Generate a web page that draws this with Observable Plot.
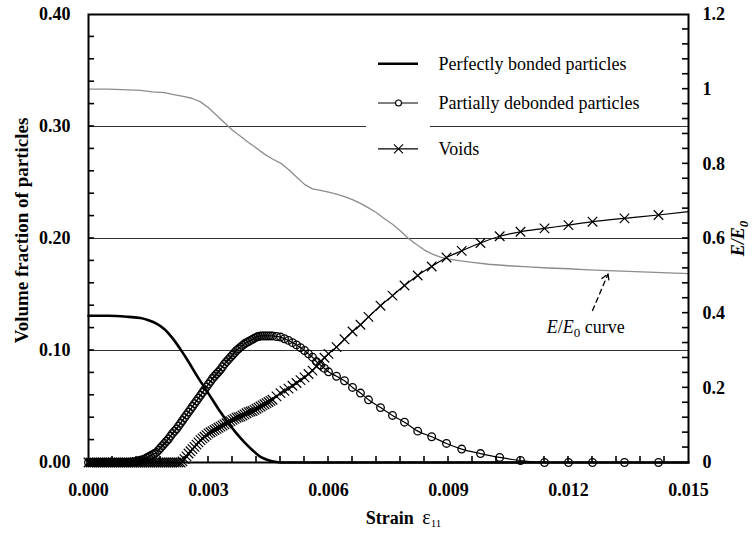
<!DOCTYPE html>
<html><head><meta charset="utf-8">
<script src="https://cdn.jsdelivr.net/npm/d3@7"></script>
<script src="https://cdn.jsdelivr.net/npm/@observablehq/plot@0.6"></script>
<style>
body{margin:0;background:#fff}
#chart svg, #chart svg text { font-family: "Liberation Serif", "Times New Roman", serif !important; }
</style>
</head><body><div id="chart"></div>
<script>
// shared strain steps (marker positions) for partially debonded particles and voids
const strain = [0,0.00005,0.0001,0.00015,0.0002,0.00025,0.0003,0.00035,0.0004,0.00045,
  0.0005,0.00055,0.0006,0.00065,0.0007,0.00075,0.0008,0.00085,0.0009,0.00095,
  0.0010,0.00105,0.0011,0.00115,0.0012,0.00125,0.0013,0.00135,0.0014,0.00145,
  0.0015,0.00155,0.0016,0.00165,0.0017,0.00175,0.0018,0.00185,0.0019,0.00195,
  0.0020,0.00205,0.0021,0.00215,0.0022,0.00225,0.0023,0.00235,0.0024,0.00245,
  0.0025,0.00255,0.0026,0.00265,0.0027,0.00275,0.0028,0.00285,0.0029,0.00295,
  0.0030,0.00305,0.0031,0.00315,0.0032,0.00325,0.0033,0.00335,0.0034,0.00345,
  0.0035,0.00355,0.0036,0.00365,0.0037,0.00375,0.0038,0.00385,0.0039,0.00395,
  0.0040,0.00405,0.0041,0.00415,0.0042,0.00425,0.0043,0.00435,0.0044,0.00445,
  0.0045,0.00455,0.0046,0.0047,0.0048,0.0049,0.0050,0.0051,0.0052,0.0053,
  0.0054,0.0055,0.0056,0.0057,0.0058,0.0059,0.0060,0.0062,0.0064,0.0066,
  0.0068,0.0070,0.0073,0.0076,0.0079,0.00823,0.00858,0.00895,0.00933,0.0098,
  0.01028,0.0108,0.0114,0.0120,0.0126,0.0134,0.01425,0.0150];
const partial = [0,0,0,0,0,0,0,0,0,0,
  0,0,0,0,0,0,0,0,0,0,
  0,0.0002,0.0005,0.0008,0.001,0.0015,0.002,0.0025,0.003,0.004,
  0.005,0.006,0.007,0.008,0.009,0.011,0.013,0.015,0.017,0.019,
  0.021,0.0235,0.026,0.028,0.030,0.0325,0.035,0.0375,0.040,0.0425,
  0.045,0.0475,0.050,0.0525,0.055,0.0575,0.060,0.0625,0.065,0.0675,
  0.070,0.0725,0.075,0.077,0.079,0.081,0.083,0.0855,0.088,0.090,
  0.092,0.094,0.096,0.098,0.100,0.1015,0.103,0.1045,0.106,0.107,
  0.108,0.109,0.110,0.111,0.112,0.1125,0.113,0.113,0.113,0.113,
  0.113,0.113,0.113,0.1125,0.112,0.1105,0.109,0.107,0.105,0.1025,
  0.100,0.097,0.094,0.090,0.087,0.084,0.081,0.077,0.073,0.067,
  0.062,0.056,0.049,0.042,0.036,0.028,0.023,0.017,0.012,0.008,
  0.0045,0.0018,0,0,0,0,0,0];
const voids = [0,0,0,0,0,0,0,0,0,0,
  0,0,0,0,0,0,0,0,0,0,
  0,0,0,0,0,0,0,0,0,0,
  0,0,0,0,0,0,0,0,0,0,
  0,0,0,0,0,0,0,0.001,0.003,0.0055,
  0.008,0.010,0.012,0.014,0.016,0.018,0.020,0.0215,0.023,0.0245,
  0.026,0.027,0.028,0.029,0.030,0.031,0.032,0.033,0.034,0.035,
  0.036,0.037,0.038,0.039,0.040,0.0405,0.041,0.042,0.043,0.044,
  0.045,0.0455,0.046,0.047,0.048,0.049,0.050,0.051,0.052,0.053,
  0.054,0.055,0.056,0.059,0.062,0.064,0.066,0.0685,0.071,0.0735,
  0.076,0.079,0.082,0.086,0.090,0.0935,0.097,0.103,0.110,0.117,
  0.123,0.130,0.140,0.149,0.158,0.167,0.175,0.183,0.189,0.196,
  0.202,0.206,0.209,0.212,0.215,0.218,0.221,0.224];
// perfectly bonded particles (line only)
const bondedStrain = [0,0.0005,0.0010,0.0013,0.0015,0.0017,0.0019,0.0021,0.0023,0.0025,
  0.0027,0.0029,0.0031,0.0033,0.0035,0.0037,0.0039,0.0041,0.0043,0.0045,0.0047,0.0049,0.0150];
const bonded = [0.131,0.131,0.130,0.129,0.127,0.124,0.119,0.111,0.101,0.090,
  0.078,0.067,0.056,0.045,0.035,0.026,0.018,0.011,0.005,0.002,0.0005,0,0];
// E/E0 curve (right axis)
const eStrain = [0,0.0005,0.0010,0.0013,0.0016,0.0019,0.0021,0.0024,0.0026,0.0028,
  0.0030,0.0032,0.0034,0.0036,0.0038,0.0040,0.0042,0.0044,0.0046,0.0048,
  0.0050,0.0052,0.0054,0.0056,0.0058,0.0060,0.0062,0.0064,0.0066,0.0068,
  0.0070,0.0072,0.0074,0.0076,0.0078,0.0080,0.0082,0.0084,0.0086,0.0088,
  0.0090,0.0093,0.0096,0.0100,0.0105,0.0110,0.0115,0.0120,0.0125,0.0130,
  0.0135,0.0140,0.0145,0.0150];
const eRatio = [1.000,1.000,0.998,0.997,0.993,0.991,0.986,0.980,0.975,0.966,
  0.950,0.930,0.910,0.890,0.874,0.857,0.842,0.826,0.813,0.802,
  0.785,0.765,0.745,0.733,0.729,0.724,0.719,0.712,0.704,0.694,
  0.682,0.669,0.653,0.638,0.620,0.600,0.584,0.569,0.558,0.550,
  0.545,0.540,0.536,0.531,0.527,0.524,0.521,0.519,0.516,0.514,
  0.512,0.510,0.508,0.506];
// tick labels
const xTicks = [0,0.003,0.006,0.009,0.012,0.015];
const xTickLabels = ["0.000","0.003","0.006","0.009","0.012","0.015"];
const yTicks = [0,0.1,0.2,0.3,0.4];
const yTickLabels = ["0.00","0.10","0.20","0.30","0.40"];
const rTicks = [0,0.2,0.4,0.6,0.8,1.0,1.2];
const rTickLabels = ["0","0.2","0.4","0.6","0.8","1","1.2"];
const gridLines = [0.1,0.2,0.3];
const legendLabels = ["Perfectly bonded particles","Partially debonded particles","Voids"];

const RATIO = 3; // right axis (0..1.2) mapped onto left (0..0.4)
const rows = strain.map((s,i)=>({s, p: partial[i], v: voids[i]}));
const markerRows = rows.slice(0,-1);
const bondRows = bondedStrain.map((s,i)=>({s, b: bonded[i]}));
const eRows = eStrain.map((s,i)=>({s, e: eRatio[i]/RATIO}));

// minor tick positions
const xMinor = d3.range(1, 25).map(k => k * 0.0006);
const yMinor = d3.range(1, 20).map(k => k * 0.02);
const rMinor = d3.range(1, 30).map(k => k * 0.04 / RATIO);
const XMAX = 0.015, TK = 6; // inward tick length in px

// legend layout (data units)
const legY = [0.356,0.321,0.280];
const legX1 = 0.00725, legX2 = 0.00825, legXm = 0.00775, legTx = 0.00875;
const leg = legendLabels.map((t,i)=>({t, y: legY[i]}));

const plot = Plot.plot({
  width: 752, height: 534,
  marginLeft: 88, marginRight: 64, marginTop: 14, marginBottom: 72,
  x: {domain: [0, XMAX]},
  y: {domain: [0, 0.4]},
  style: {fontFamily: "Liberation Serif", fontSize: "18px", fontWeight: "bold", color: "black", background: "white", overflow: "visible"},
  marks: [
    Plot.ruleY(gridLines, {stroke: "#333", strokeWidth: 1}),
    Plot.rect([0], {x1: 0.00695, x2: 0.00855, y1: 0.29, y2: 0.31, fill: "white"}),
    // axes: labels
    Plot.axisX({ticks: xTicks, tickFormat: (d,i)=>xTickLabels[i], tickSize: 0, tickPadding: 21, label: null}),
    Plot.axisY({ticks: yTicks, tickFormat: (d,i)=>yTickLabels[i], tickSize: 0, tickPadding: 18, label: null}),
    Plot.axisY({anchor: "right", ticks: rTicks.map(d=>d/RATIO), tickFormat: (d,i)=>rTickLabels[i], tickSize: 0, tickPadding: 14, label: null}),
    // E/E0 curve
    Plot.line(eRows, {x: "s", y: "e", stroke: "#8c8c8c", strokeWidth: 1.3}),
    // perfectly bonded
    Plot.line(bondRows, {x: "s", y: "b", stroke: "black", strokeWidth: 2.6, curve: "monotone-x"}),
    // partially debonded
    Plot.line(rows, {x: "s", y: "p", stroke: "black", strokeWidth: 1.2, curve: "monotone-x"}),
    Plot.dot(markerRows, {x: "s", y: "p", r: 3.8, stroke: "black", strokeWidth: 1.3, fill: "none"}),
    // voids
    Plot.line(rows, {x: "s", y: "v", stroke: "black", strokeWidth: 1.2, curve: "monotone-x"}),
    Plot.dot(markerRows, {x: "s", y: "v", r: 4.4, symbol: "times", stroke: "black", strokeWidth: 1.2}),
    Plot.frame({stroke: "black", strokeWidth: 2}),
    // legend
    Plot.ruleY(leg, {y: "y", x1: legX1, x2: legX2, stroke: "black", strokeWidth: (d,i)=> i===0 ? 2.6 : 1.2}),
    Plot.dot(leg.filter((d,i)=>i===1), {x: legXm, y: "y", r: 3, stroke: "black", fill: "white", strokeWidth: 1.1}),
    Plot.dot(leg.filter((d,i)=>i===2), {x: legXm, y: "y", r: 4.2, symbol: "times", stroke: "black", strokeWidth: 1.1}),
    Plot.text(leg, {x: legTx, y: "y", text: "t", textAnchor: "start", fontWeight: "normal", fontSize: 18}),
    // annotation
    Plot.arrow([0], {x1: 0.0126, y1: 0.1357, x2: 0.01299, y2: 0.1685, stroke: "black", strokeWidth: 1.3, strokeDasharray: "5,4", headLength: 9}),
    Plot.text(["E/E0 curve"], {x: 0.01243, y: 0.1205, fontWeight: "normal", fontSize: 18}),
    // axis titles
    Plot.text(["Volume fraction of particles"], {frameAnchor: "left", textAnchor: "middle", dx: -67, dy: -8, rotate: -90, fontSize: 19}),
    Plot.text(["E/E0 title"], {frameAnchor: "right", textAnchor: "middle", dx: 50, rotate: -90, fontSize: 18}),
    Plot.text(["Strain eps11"], {frameAnchor: "bottom", textAnchor: "middle", dx: 15, dy: 61, fontSize: 18})
  ]
});
document.getElementById("chart").appendChild(plot);

const svg = d3.select(plot);
// inward minor ticks, placed with the plot's own scales
const sx = plot.scale("x"), sy = plot.scale("y");
const X0 = sx.apply(0), X1 = sx.apply(XMAX), Y0 = sy.apply(0);
const tg = svg.append("g").attr("stroke", "black").attr("stroke-width", 1.6);
tg.selectAll(null).data(xMinor).join("line")
  .attr("x1", d => sx.apply(d)).attr("x2", d => sx.apply(d)).attr("y1", Y0).attr("y2", Y0 - TK);
tg.selectAll(null).data(yMinor).join("line")
  .attr("x1", X0).attr("x2", X0 + TK).attr("y1", d => sy.apply(d)).attr("y2", d => sy.apply(d));
tg.selectAll(null).data(rMinor).join("line")
  .attr("x1", X1 - TK).attr("x2", X1).attr("y1", d => sy.apply(d)).attr("y2", d => sy.apply(d));

svg.selectAll("text").filter(function(){ return this.textContent === "E/E0 curve"; })
  .html('<tspan font-style="italic">E</tspan>/<tspan font-style="italic">E</tspan><tspan dy="4" font-size="13">0</tspan><tspan dy="-4"> curve</tspan>');
svg.selectAll("text").filter(function(){ return this.textContent === "E/E0 title"; })
  .html('<tspan font-style="italic">E</tspan><tspan font-style="italic">/</tspan><tspan font-style="italic">E</tspan><tspan font-style="italic" dy="4" font-size="13">0</tspan>');
svg.selectAll("text").filter(function(){ return this.textContent === "Strain eps11"; })
  .html('Strain <tspan font-weight="normal" font-size="20" dx="4">ε</tspan><tspan font-weight="normal" font-size="11" dy="3">11</tspan>');
</script></body></html>
